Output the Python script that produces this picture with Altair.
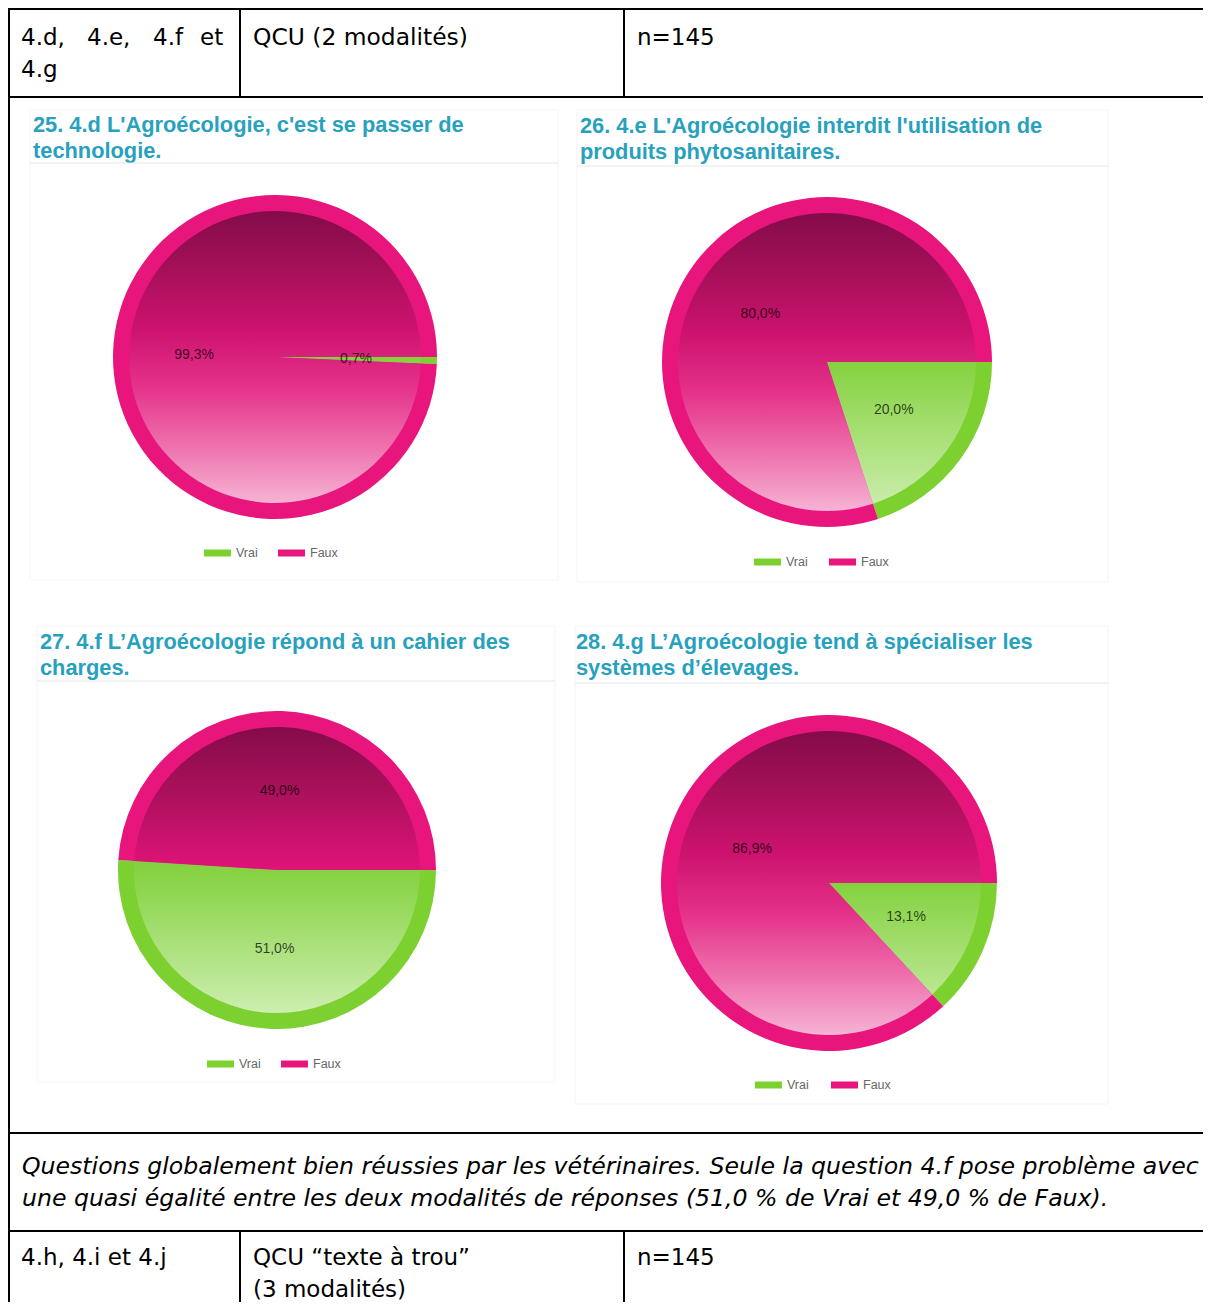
import math
import altair as alt
import pandas as pd

# ---------------- data ----------------
categories = ["Vrai", "Faux"]
q25 = [0.7, 99.3]
q26 = [20.0, 80.0]
q27 = [51.0, 49.0]
q28 = [13.1, 86.9]

titles = [
    ["25. 4.d L'Agroécologie, c'est se passer de", "technologie."],
    ["26. 4.e L'Agroécologie interdit l'utilisation de", "produits phytosanitaires."],
    ["27. 4.f L’Agroécologie répond à un cahier des", "charges."],
    ["28. 4.g L’Agroécologie tend à spécialiser les", "systèmes d’élevages."],
]

row1_col1 = ["4.d,", "4.e,", "4.f", "et", "4.g"]
row1_col2 = "QCU (2 modalités)"
row1_col3 = "n=145"
paragraph = [
    "Questions globalement bien réussies par les vétérinaires. Seule la question 4.f pose problème avec",
    "une quasi égalité entre les deux modalités de réponses (51,0 % de Vrai et 49,0 % de Faux).",
]
row3_col1 = "4.h, 4.i et 4.j"
row3_col2 = ["QCU “texte à trou”", "(3 modalités)"]
row3_col3 = "n=145"

# ---------------- styles ----------------
OFF = 8  # page margin
FONT = "Liberation Sans"
DOC_FONT = "DejaVu Sans"
GREEN = "#7cd02f"
PINK = "#e8157c"
TEAL = "#27a1be"
PINK_STOPS = [(0.0, "#840b4a"), (0.25, "#ae115d"), (0.5, "#e0137a"), (0.75, "#ec5ea2"), (1.0, "#f6b3d4")]
GREEN_STOPS = [(0.0, "#5fae26"), (0.5, "#84d23f"), (1.0, "#cdeeb0")]

theta_scale = alt.Scale(domain=[0, 100], range=[math.pi / 2, math.pi / 2 + 2 * math.pi])
one = alt.Chart(alt.Data(values=[{"k": 0}]))


def hex2rgb(h):
    h = h.lstrip("#")
    return [int(h[i:i + 2], 16) for i in (0, 2, 4)]


def sample(stops, t):
    t = min(max(t, 0.0), 1.0)
    for (o0, c0), (o1, c1) in zip(stops[:-1], stops[1:]):
        if o0 <= t <= o1:
            f = 0 if o1 == o0 else (t - o0) / (o1 - o0)
            a, b = hex2rgb(c0), hex2rgb(c1)
            return "#" + "".join(f"{round(a[i] + (b[i] - a[i]) * f):02x}" for i in range(3))
    return stops[-1][1]


def sector_trange(s, e):
    a0 = math.pi / 2 + s / 100 * 2 * math.pi
    a1 = math.pi / 2 + e / 100 * 2 * math.pi
    ys = [0.0, -math.cos(a0), -math.cos(a1)]
    k = math.ceil(a0 / math.pi)
    while k * math.pi < a1:
        ys.append(-math.cos(k * math.pi))
        k += 1
    return (min(ys) + 1) / 2, (max(ys) + 1) / 2


def gradient_for(stops, s, e):
    t0, t1 = sector_trange(s, e)
    gs = []
    for i in range(6):
        o = i / 5
        gs.append(alt.GradientStop(offset=o, color=sample(stops, t0 + (t1 - t0) * o)))
    return alt.LinearGradient(gradient="linear", stops=gs, x1=0, x2=0, y1=0, y2=1)


def txt(s, x, y, size=23, color="#000000", weight="normal", style="normal", font=DOC_FONT):
    return one.mark_text(
        align="left", baseline="middle", fontSize=size, font=font,
        fill=color, fontWeight=weight, fontStyle=style,
    ).encode(x=alt.value(x - OFF), y=alt.value(y - OFF), text=alt.value(s))


def hline(y, x1, x2, color="#000000", w=2):
    return one.mark_rule(stroke=color, strokeWidth=w).encode(
        x=alt.value(x1 - OFF), x2=alt.value(x2 - OFF), y=alt.value(y - OFF))


def vline(x, y1, y2, color="#000000", w=2):
    return one.mark_rule(stroke=color, strokeWidth=w).encode(
        x=alt.value(x - OFF), y=alt.value(y1 - OFF), y2=alt.value(y2 - OFF))


def swatch(x, y, color):
    return one.mark_rect(fill=color).encode(
        x=alt.value(x - OFF), x2=alt.value(x + 27 - OFF),
        y=alt.value(y - 3.5 - OFF), y2=alt.value(y + 3.5 - OFF))


def pie(vals, title, cx, cy, R, tx, ty, ul_y, ul_x1, ul_x2, lg_x, lg_y, box):
    df = pd.DataFrame({"cat": categories, "value": vals})
    df["end"] = df["value"].cumsum()
    df["start"] = df["end"] - df["value"]
    df["mid"] = (df["start"] + df["end"]) / 2
    df["label"] = df["value"].map(lambda v: f"{v:.1f}".replace(".", ",") + "%")
    base = alt.Chart(df)
    pos = dict(x=alt.value(cx - OFF), y=alt.value(cy - OFF))
    layers = []
    bx1, by1, bx2, by2 = box
    layers += [hline(by1, bx1, bx2, "#f5f5f5", 1), hline(by2, bx1, bx2, "#f5f5f5", 1),
               vline(bx1, by1, by2, "#f3f3f3", 1), vline(bx2, by1, by2, "#f3f3f3", 1)]
    layers.append(
        base.mark_arc(radius=R).encode(
            theta=alt.Theta("start:Q", scale=theta_scale),
            theta2="end:Q",
            color=alt.Color("cat:N", scale=alt.Scale(domain=categories, range=[GREEN, PINK]), legend=None),
            **pos,
        )
    )
    for i, (cat, stops) in enumerate(zip(categories, [GREEN_STOPS, PINK_STOPS])):
        g = gradient_for(stops, df["start"][i], df["end"][i])
        layers.append(
            base.transform_filter(alt.datum.cat == cat).mark_arc(radius=R - 16, fill=g).encode(
                theta=alt.Theta("start:Q", scale=theta_scale),
                theta2="end:Q",
                **pos,
            )
        )
    layers.append(
        base.mark_text(radius=R * 0.5, fontSize=14, font=FONT, fill="#000000", fillOpacity=0.72,
                       align="center", baseline="middle").encode(
            theta=alt.Theta("mid:Q", scale=theta_scale, stack=False),
            text="label:N",
            **pos,
        )
    )
    layers.append(txt(title[0], tx, ty, 21.8, TEAL, "bold", font=FONT))
    layers.append(txt(title[1], tx, ty + 26, 21.8, TEAL, "bold", font=FONT))
    layers.append(hline(ul_y, ul_x1, ul_x2, "#e6e6e6", 1))
    gx, px = lg_x
    layers += [swatch(gx, lg_y, GREEN), txt(categories[0], gx + 32, lg_y, 12.5, "#666666", font=FONT),
               swatch(px, lg_y, PINK), txt(categories[1], px + 32, lg_y, 12.5, "#666666", font=FONT)]
    return layers


layers = []
# table frame
layers += [
    hline(9, 8, 1211), hline(97, 8, 1211), hline(1133, 8, 1211), hline(1231, 8, 1211),
    vline(9, 8, 1310), vline(240, 9, 97), vline(624, 9, 97), vline(240, 1231, 1310), vline(624, 1231, 1310),
]
# row 1
for w, x in zip(row1_col1[:4], [21, 87, 153, 200]):
    layers.append(txt(w, x, 38))
layers.append(txt(row1_col1[4], 21, 70))
layers.append(txt(row1_col2, 253, 38, 23.4))
layers.append(txt(row1_col3, 637, 38))
# paragraph
layers.append(txt(paragraph[0], 22, 1167, 23.6, style="italic"))
layers.append(txt(paragraph[1], 22, 1199, 23.6, style="italic"))
# row 3
layers.append(txt(row3_col1, 21, 1258))
layers.append(txt(row3_col2[0], 253, 1258))
layers.append(txt(row3_col2[1], 253, 1290))
layers.append(txt(row3_col3, 637, 1258))

# pies
layers += pie(q25, titles[0], 275, 357, 162, 33, 125, 163, 30, 558, (204, 278), 553, (30, 110, 558, 580))
layers += pie(q26, titles[1], 827, 362, 165, 580, 126, 166, 577, 1108, (754, 829), 562, (577, 110, 1108, 582))
layers += pie(q27, titles[2], 277, 870, 159, 40, 642, 681, 37, 555, (207, 281), 1064, (37, 626, 555, 1082))
layers += pie(q28, titles[3], 829, 883, 168, 576, 642, 683, 575, 1108, (755, 831), 1085, (575, 626, 1108, 1104))

chart = alt.layer(*layers).properties(
    width=1195, height=1294, autosize="none", padding=0, background="white"
).configure_view(strokeWidth=0)

chart.save("out.html", embed_options={"renderer": "svg", "actions": False})
